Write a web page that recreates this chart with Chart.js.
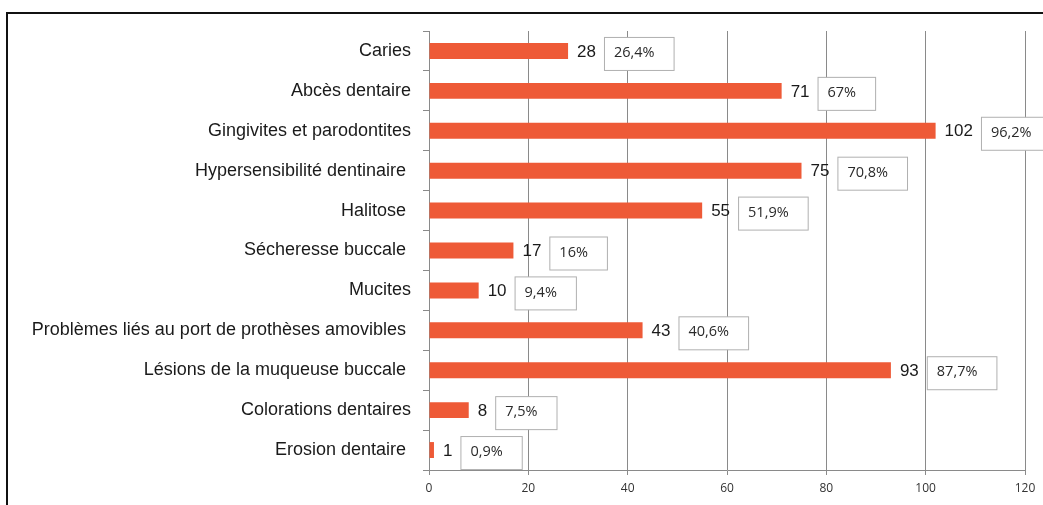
<!DOCTYPE html>
<html>
<head>
<meta charset="utf-8">
<script src="https://cdn.jsdelivr.net/npm/chart.js@4/dist/chart.umd.min.js"></script>
<style>
  html, body { margin: 0; padding: 0; background: #fff; overflow: hidden; }
  #wrap { position: relative; width: 1043px; height: 505px; }
  #frame { position: absolute; left: 6px; top: 12px; width: 1100px; height: 600px;
           border-top: 2px solid #111; border-left: 2px solid #111; pointer-events: none; }
</style>
</head>
<body>
<div id="wrap">
  <canvas id="chart" width="1043" height="505"></canvas>
  <div id="frame"></div>
</div>
<script>
// Données
const categories = ['Caries', 'Abcès dentaire', 'Gingivites et parodontites', 'Hypersensibilité dentinaire ',
    'Halitose ', 'Sécheresse buccale ', 'Mucites', 'Problèmes liés au port de prothèses amovibles ',
    'Lésions de la muqueuse buccale ', 'Colorations dentaires', 'Erosion dentaire '];
const effectifs = [28, 71, 102, 75, 55, 17, 10, 43, 93, 8, 1];
const pourcentages = ['26,4%', '67%', '96,2%', '70,8%', '51,9%', '16%', '9,4%', '40,6%', '87,7%', '7,5%', '0,9%'];
const xTicks = [0, 20, 40, 60, 80, 100, 120];

const plotLeft = 429, plotRight = 1025, plotTop = 31, plotBottom = 470;

// étiquettes : valeur + pourcentage encadré
const etiquettes = {
    id: 'etiquettes',
    afterDatasetsDraw(chart) {
        const ctx = chart.ctx;
        const meta = chart.getDatasetMeta(0);
        ctx.save();
        meta.data.forEach((bar, i) => {
            const y = bar.y;
            const x = bar.x;
            ctx.font = '17px "Liberation Sans", Arial, sans-serif';
            ctx.fillStyle = '#1a1a1a';
            ctx.textAlign = 'left';
            ctx.textBaseline = 'middle';
            const txt = String(effectifs[i]);
            ctx.fillText(txt, x + 9, y + 1);
            const w = ctx.measureText(txt).width;
            const bx = x + 9 + w + 8;
            ctx.font = '14.5px "Open Sans", sans-serif';
            const pw = ctx.measureText(pourcentages[i]).width;
            const bw = pw + 29;
            ctx.fillStyle = '#fff';
            ctx.fillRect(bx + 0.5, y - 13.5, bw, 33);
            ctx.strokeStyle = '#b0b0b0';
            ctx.lineWidth = 1;
            ctx.strokeRect(bx + 0.5, y - 13.5, bw, 33);
            ctx.fillStyle = '#2a2a2a';
            ctx.fillText(pourcentages[i], bx + 10, y + 2);
        });
        ctx.restore();
    }
};

new Chart(document.getElementById('chart'), {
    type: 'bar',
    data: {
        labels: categories,
        datasets: [{
            data: effectifs,
            backgroundColor: '#EE5A37',
            borderWidth: 0,
            categoryPercentage: 0.8,
            barPercentage: 0.5
        }]
    },
    options: {
        indexAxis: 'y',
        responsive: false,
        animation: false,
        layout: { padding: { left: 0, right: 1043 - plotRight, top: plotTop, bottom: 0 } },
        plugins: { legend: { display: false }, tooltip: { enabled: false } },
        scales: {
            x: {
                min: 0,
                max: 120,
                afterBuildTicks: (axis) => { axis.ticks = xTicks.map(v => ({ value: v })); },
                afterFit: (axis) => { axis.height = 505 - plotBottom; },
                grid: { color: '#8a8a8a', lineWidth: 1, tickLength: 5 },
                border: { display: true, color: '#8a8a8a' },
                ticks: {
                    color: '#333',
                    padding: 6,
                    font: { family: '"Open Sans", sans-serif', size: 12 }
                }
            },
            y: {
                afterFit: (axis) => { axis.width = plotLeft; },
                grid: { drawOnChartArea: false, color: '#8a8a8a', tickLength: 6, offset: true },
                border: { display: true, color: '#8a8a8a' },
                ticks: {
                    color: '#1a1a1a',
                    padding: 12,
                    autoSkip: false,
                    font: { family: '"Liberation Sans", Arial, sans-serif', size: 18 }
                }
            }
        }
    },
    plugins: [etiquettes]
});
</script>
</body>
</html>
